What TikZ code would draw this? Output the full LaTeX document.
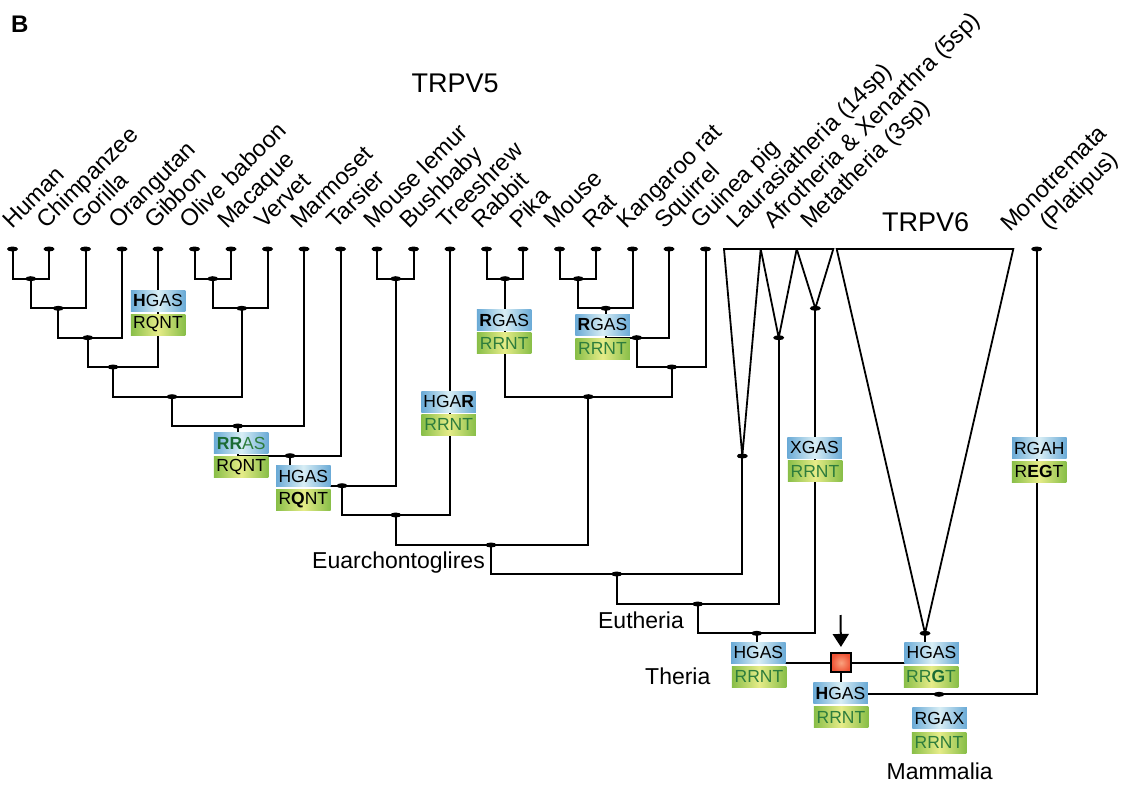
\documentclass[tikz,border=0pt]{standalone}
\usepackage{fontspec}
\setmainfont{Liberation Sans}
\usetikzlibrary{arrows.meta,shapes.geometric}
\definecolor{bblue}{HTML}{6AAAD6}
\definecolor{bpale}{HTML}{D8EEF5}
\definecolor{ggreen}{HTML}{88BE48}
\definecolor{gpale}{HTML}{E6EC88}
\definecolor{tgreen}{HTML}{2E7D3C}
\definecolor{dgreen}{HTML}{1B6B34}
\definecolor{sqred}{HTML}{EE5335}
\definecolor{sqpale}{HTML}{F9A27F}
\tikzset{
  br/.style={line width=2pt, line join=miter, black},
  tri/.style={line width=1.8pt, line join=miter, black},
  dot/.style={ellipse, fill=black, minimum width=11pt, minimum height=5pt, inner sep=0pt},
  leaflab/.style={rotate=45, anchor=base west, inner sep=0pt, font=\fontsize{23.5}{28}\selectfont},
  cladelab/.style={inner sep=0pt, font=\fontsize{23}{27}\selectfont},
  bigtitle/.style={inner sep=0pt, anchor=base west, font=\fontsize{27}{30}\selectfont},
  tbox/.style={minimum width=54.5pt, minimum height=21pt, inner sep=0pt, left color=bblue, right color=bblue, middle color=bpale, font=\fontsize{17.5}{20}\selectfont, text=black},
  gbox/.style={minimum width=54.5pt, minimum height=21pt, inner sep=0pt, left color=ggreen, right color=ggreen, middle color=gpale, font=\fontsize{17.5}{20}\selectfont, text=black},
  dupbox/.style={draw=black, line width=2pt, minimum size=19.5pt, inner sep=0pt, inner color=sqpale, outer color=sqred},
}
\begin{document}
\begin{tikzpicture}[x=1pt,y=-1pt]
\useasboundingbox (0,0) rectangle (1134,784);

% leaves and labels
\foreach \i/\x/\d/\t in {0/12.5/0/Human,1/49/3/Chimpanzee,2/85.5/4/Gorilla,3/122/4/Orangutan,4/158/4/Gibbon,5/194.5/5/Olive baboon,6/231/4/Macaque,7/267.5/3/Vervet,8/304/4/Marmoset,9/340.5/4/Tarsier,10/377/4/Mouse lemur,11/413.5/4/Bushbaby,12/450/4/Treeshrew,13/486.5/5/Rabbit,14/523/4/Pika,15/559.5/6/Mouse,16/596/4/Rat,17/632.5/6/Kangaroo rat,18/669/5/Squirrel,19/705.5/5/Guinea pig}{
  \coordinate (l\i) at (\x,249);
  \node[leaflab] (t\i) at (\x-\d,230) {\t};
}
\coordinate (mono) at (1036.7,249);

% triangles (collapsed clades)
\coordinate (lauL) at (724,249);   \coordinate (lauR) at (760.7,249); \coordinate (lau) at (742.3,456);
\coordinate (afrR) at (796.7,249); \coordinate (afr) at (778.7,337.7);
\coordinate (metR) at (833.3,249); \coordinate (met) at (815.3,308.3);
\coordinate (v6L) at (836.7,249);  \coordinate (v6R) at (1013.3,249); \coordinate (v6) at (925,633.3);

\node[leaflab] (tlau) at (736,230) {Laurasiatheria (14sp)};
\node[leaflab] (tafr) at (773,230) {Afrotheria \& Xenarthra (5sp)};
\node[leaflab] (tmet) at (810,230) {Metatheria (3sp)};
\node[leaflab] (tmon1) at (1010,233) {Monotremata};
\node[leaflab] (tmon2) at (1049,231) {(Platipus)};

% internal nodes
\coordinate (n01) at (30.7,278.7);
\coordinate (n012) at (58.3,308.3);
\coordinate (n0123) at (87.7,337.7);
\coordinate (apes) at (113,367);
\coordinate (n56) at (212.7,278.7);
\coordinate (owm) at (241.7,308.3);
\coordinate (catar) at (172,396.7);
\coordinate (simians) at (237.7,426);
\coordinate (haplo) at (290,455.7);
\coordinate (strep) at (395.7,278.7);
\coordinate (primates) at (342,485.7);
\coordinate (euarch) at (395.7,515);
\coordinate (lago) at (505,278.7);
\coordinate (murid) at (578.3,278.7);
\coordinate (nkr) at (605.7,308.3);
\coordinate (nsq) at (636.7,337.7);
\coordinate (rodents) at (671.7,367);
\coordinate (glires) at (588.3,396.7);
\coordinate (euglires) at (491,545);
\coordinate (boreo) at (616.7,574);
\coordinate (eutheria) at (697.7,604);
\coordinate (theria) at (756.7,633.3);
\coordinate (dup) at (841,662.7);
\coordinate (mammalia) at (939,694.3);

% branches
\draw[br] (l0) |- (n01) -| (l1);
\draw[br] (n01) |- (n012) -| (l2);
\draw[br] (n012) |- (n0123) -| (l3);
\draw[br] (n0123) |- (apes) -| (l4);
\draw[br] (l5) |- (n56) -| (l6);
\draw[br] (n56) |- (owm) -| (l7);
\draw[br] (apes) |- (catar) -| (owm);
\draw[br] (catar) |- (simians) -| (l8);
\draw[br] (simians) |- (haplo) -| (l9);
\draw[br] (l10) |- (strep) -| (l11);
\draw[br] (haplo) |- (primates) -| (strep);
\draw[br] (primates) |- (euarch) -| (l12);
\draw[br] (l13) |- (lago) -| (l14);
\draw[br] (l15) |- (murid) -| (l16);
\draw[br] (murid) |- (nkr) -| (l17);
\draw[br] (nkr) |- (nsq) -| (l18);
\draw[br] (nsq) |- (rodents) -| (l19);
\draw[br] (lago) |- (glires) -| (rodents);
\draw[br] (euarch) |- (euglires) -| (glires);
\draw[br] (euglires) |- (boreo) -| (lau);
\draw[br] (boreo) |- (eutheria) -| (afr);
\draw[br] (eutheria) |- (theria) -| (met);
\draw[br] (theria) |- (dup) -| (v6);
\draw[br] (dup) |- (mammalia) -| (mono);

\draw[tri] (lauL) -- (lauR) -- (lau) -- cycle;
\draw[tri] (lauR) -- (afrR) -- (afr) -- cycle;
\draw[tri] (afrR) -- (metR) -- (met) -- cycle;
\draw[tri] (v6L) -- (v6R) -- (v6) -- cycle;

% dots
\foreach \i in {0,...,19}{\node[dot] at (l\i) {};}
\foreach \c in {mono,lau,afr,met,v6,n01,n012,n0123,apes,n56,owm,catar,simians,haplo,strep,primates,euarch,lago,murid,nkr,nsq,rodents,glires,euglires,boreo,eutheria,theria,mammalia}{\node[dot] at (\c) {};}

% motif boxes
\node[tbox] (b1t) at (158,300.8) {\textbf{H}GAS};
\node[gbox] (b1g) at (158,324.5) {RQNT};
\node[tbox] (b2t) at (241.2,443.3) {\textcolor{dgreen}{\textbf{RR}}\textcolor{tgreen}{AS}};
\node[gbox] (b2g) at (241.2,467.2) {RQNT};
\node[tbox] (b3t) at (303.3,476.3) {HGAS};
\node[gbox] (b3g) at (303.3,499.7) {R\textbf{Q}NT};
\node[tbox] (b4t) at (448.7,401.7) {HGA\textbf{R}};
\node[gbox, text=tgreen] (b4g) at (448.7,424.8) {RRNT};
\node[tbox] (b5t) at (504.2,320) {\textbf{R}GAS};
\node[gbox, text=tgreen] (b5g) at (504.2,343.3) {RRNT};
\node[tbox] (b6t) at (602.5,324.5) {\textbf{R}GAS};
\node[gbox, text=tgreen] (b6g) at (602.5,348.7) {RRNT};
\node[tbox] (b7t) at (814.5,447.8) {XGAS};
\node[gbox, text=tgreen] (b7g) at (815,471.2) {RRNT};
\node[tbox] (b8t) at (1039.3,448.2) {RGAH};
\node[gbox] (b8g) at (1039,471.7) {R\textbf{EG}T};
\node[tbox] (b9t) at (758.3,652.8) {HGAS};
\node[gbox, text=tgreen] (b9g) at (759,676.7) {RRNT};
\node[tbox] (b10t) at (931.5,652.8) {HGAS};
\node[gbox, text=tgreen] (b10g) at (931,676.7) {RR\textcolor{dgreen}{\textbf{G}}T};
\node[tbox] (b11t) at (840.5,693.2) {\textbf{H}GAS};
\node[gbox, text=tgreen] (b11g) at (841,717.2) {RRNT};
\node[tbox] (b12t) at (939.5,718) {RGAX};
\node[gbox, text=tgreen] (b12g) at (939,742.5) {RRNT};

% duplication square and arrow
\node[dupbox] (dupsq) at (dup) {};
\coordinate (arrs) at (840.5,615);
\draw[line width=2pt, -{Triangle[width=16pt,length=13pt]}, shorten >=5pt] (arrs) -- (dupsq.north);

% texts
\node[inner sep=0pt, anchor=base west, font=\bfseries\fontsize{24}{28}\selectfont] (lblB) at (11,33) {B};
\node[bigtitle] (trpv5) at (411.5,92.3) {TRPV5};
\node[bigtitle] (trpv6) at (882,231.7) {TRPV6};
\node[cladelab, anchor=base east] (euglab) at (485,568.5) {Euarchontoglires};
\node[cladelab, anchor=base east] (eutlab) at (684,628.3) {Eutheria};
\node[cladelab, anchor=base west] (thelab) at (645,684) {Theria};
\node[cladelab, anchor=base west] (mamlab) at (886.5,779) {Mammalia};
\end{tikzpicture}
\end{document}
